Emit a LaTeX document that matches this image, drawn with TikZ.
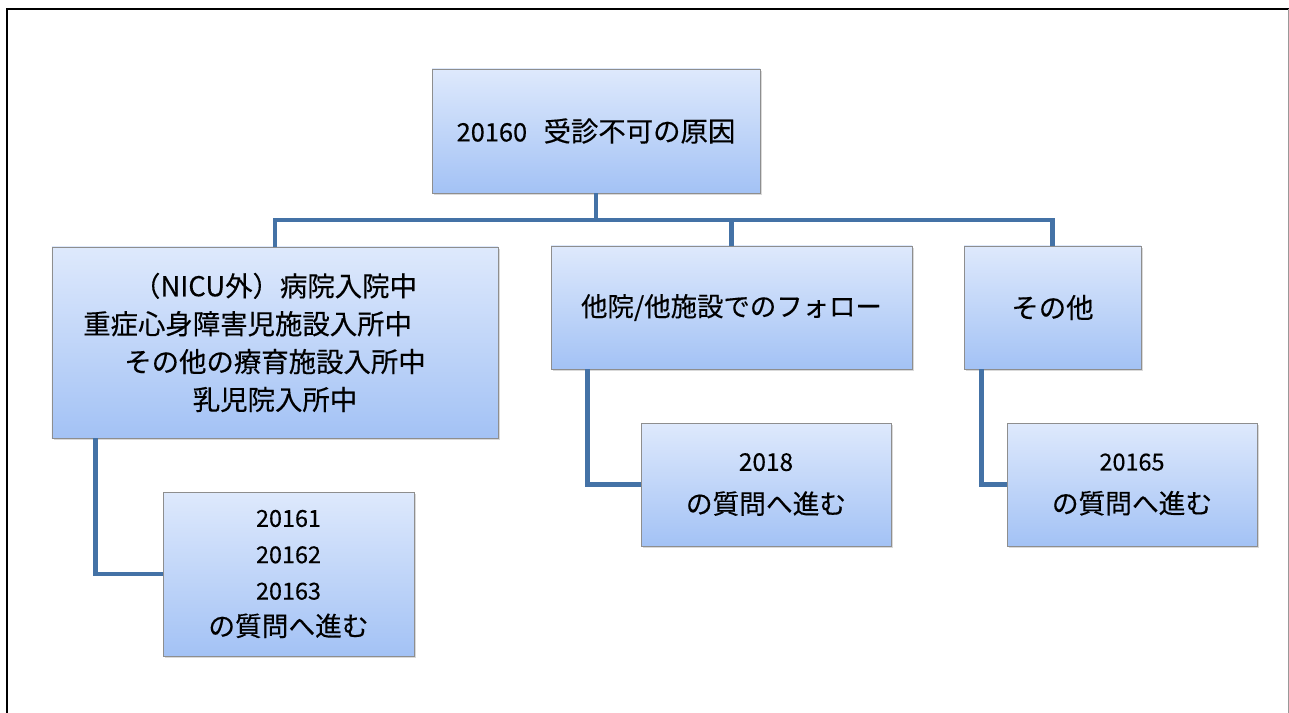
\documentclass[tikz,border=0pt]{standalone}
\usepackage{fontspec}
\setmainfont{Noto Sans CJK JP}[FakeBold=0.3]
\usetikzlibrary{shadows}
\definecolor{boxtop}{HTML}{DEE9FC}
\definecolor{boxbot}{HTML}{A3C2F5}
\definecolor{boxline}{HTML}{8E8E8E}
\definecolor{conncol}{HTML}{4472A6}
\newcommand\mynum[2]{{\fontsize{#1}{#1}\selectfont #2}}
\tikzset{
  box/.style={draw=boxline, line width=0.8bp, top color=boxtop, bottom color=boxbot,
    inner sep=0pt, align=center, text=black,
    drop shadow={opacity=0.3, shadow xshift=1.8bp, shadow yshift=-1.8bp}},
  conn/.style={draw=conncol, line width=4.5bp, line join=miter},
  frameblack/.style={draw=black, line width=2bp},
  framegray/.style={draw=gray!80, line width=1.2bp}
}
\begin{document}
\begin{tikzpicture}[x=1bp,y=-1bp]
\useasboundingbox (0,0) rectangle (1289,713);
\draw[frameblack] (7,713) -- (7,9.3) -- (1288.5,9.3);
\draw[framegray] (1288.5,9.3) -- (1288.5,713);

\node[box, minimum width=328bp, minimum height=124bp, font=\fontsize{27.5}{36}\selectfont] (top) at (596,131) {\mynum{25.5}{20160}\hspace{0.6em}受診不可の原因};
\node[box, minimum width=446bp, minimum height=191bp, font=\fontsize{27.5}{38}\selectfont] (left) at (275,342.5) {（NICU外）病院入院中\\重症心身障害児施設入所中　　\\その他の療育施設入所中\\乳児院入所中};
\node[box, minimum width=361bp, minimum height=123bp, font=\fontsize{26.5}{36}\selectfont] (mid) at (731.5,307.5) {他院/他施設でのフォロー};
\node[box, minimum width=177bp, minimum height=123bp, font=\fontsize{27.5}{36}\selectfont] (right) at (1052.5,307.5) {その他};
\node[box, minimum width=251bp, minimum height=164bp, font=\fontsize{26.8}{36.5}\selectfont] (lc) at (288.5,574) {\mynum{23.5}{20161}\\\mynum{23.5}{20162}\\\mynum{23.5}{20163}\\の質問へ進む};
\node[box, minimum width=250bp, minimum height=123bp, font=\fontsize{26.8}{43}\selectfont] (mc) at (766,484.5) {\mynum{24.5}{2018}\\の質問へ進む};
\node[box, minimum width=250bp, minimum height=123bp, font=\fontsize{26.8}{43}\selectfont] (rc) at (1132,484.5) {\mynum{23.5}{20165}\\の質問へ進む};

\coordinate (bus) at (596,220);
\draw[conn] (top.south) -- (bus);
\draw[conn] (left.north) |- (bus) -| (right.north);
\draw[conn] (mid.north) -- (mid.north |- bus);
\draw[conn] ([xshift=44bp]left.south west) |- (lc.west);
\draw[conn] ([xshift=37bp]mid.south west) |- (mc.west);
\draw[conn] ([xshift=18bp]right.south west) |- (rc.west);
\end{tikzpicture}
\end{document}
